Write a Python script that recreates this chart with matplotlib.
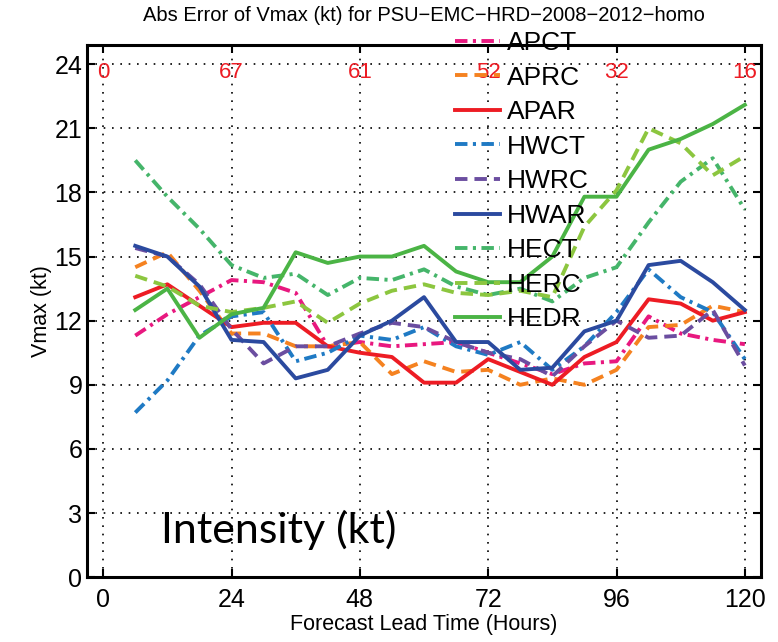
import matplotlib
matplotlib.use("Agg")
import matplotlib.pyplot as plt

# forecast lead times (hours)
hours = [6, 12, 18, 24, 30, 36, 42, 48, 54, 60, 66, 72, 78, 84, 90, 96, 102, 108, 114, 120]

# absolute Vmax errors (kt)
apct = [11.3, 12.3, 13.1, 13.9, 13.8, 13.3, 10.8, 11.0, 10.8, 10.9, 11.0, 10.5, 10.0, 9.5, 10.0, 10.1, 12.2, 11.4, 11.1, 10.9]
aprc = [14.5, 15.2, 13.4, 11.4, 11.4, 10.8, 10.8, 11.0, 9.5, 10.1, 9.6, 9.7, 9.0, 9.3, 9.0, 9.7, 11.7, 11.8, 12.7, 12.4]
apar = [13.1, 13.7, 12.7, 11.7, 11.9, 11.9, 10.8, 10.5, 10.3, 9.1, 9.1, 10.2, 9.6, 9.0, 10.3, 11.0, 13.0, 12.8, 12.0, 12.4]
hwct = [7.7, 9.2, 11.3, 12.2, 12.4, 10.1, 10.5, 11.3, 11.1, 11.7, 10.8, 10.4, 11.0, 9.7, 10.8, 12.4, 14.4, 13.1, 12.4, 10.2]
hwrc = [15.4, 15.0, 13.7, 11.6, 10.0, 10.8, 10.8, 11.4, 11.9, 11.7, 11.0, 10.5, 10.2, 9.4, 10.8, 12.0, 11.2, 11.3, 12.5, 9.9]
hwar = [15.5, 15.0, 13.6, 11.1, 11.0, 9.3, 9.7, 11.3, 12.0, 13.1, 11.0, 11.0, 9.7, 9.8, 11.5, 12.0, 14.6, 14.8, 13.8, 12.5]
hect = [19.5, 17.8, 16.3, 14.6, 14.0, 14.2, 13.2, 14.0, 13.9, 14.4, 13.6, 13.2, 13.5, 12.9, 14.0, 14.5, 16.6, 18.5, 19.6, 17.2]
herc = [14.1, 13.6, 12.7, 12.4, 12.6, 12.9, 11.9, 12.8, 13.4, 13.7, 13.3, 13.2, 13.4, 13.1, 16.4, 18.1, 21.0, 20.3, 18.8, 19.7]
hedr = [12.5, 13.5, 11.2, 12.3, 12.6, 15.2, 14.7, 15.0, 15.0, 15.5, 14.3, 13.8, 13.8, 15.0, 17.8, 17.8, 20.0, 20.5, 21.2, 22.1]

# number of cases at each label position
count_hours = [0, 24, 48, 72, 96, 120]
counts = ["0", "67", "61", "52", "32", "16"]

names = ["APCT", "APRC", "APAR", "HWCT", "HWRC", "HWAR", "HECT", "HERC", "HEDR"]
series = [apct, aprc, apar, hwct, hwrc, hwar, hect, herc, hedr]
colors = ["#e8187f", "#f58220", "#ed1c24", "#1f7ac4", "#6b4ea0", "#2b4a9f",
          "#45b56a", "#8cc63f", "#4bb445"]
dashdot = (0, (3.2, 1.4, 0.8, 1.4))
dashed = (0, (3.2, 1.8))
styles = [dashdot, dashed, "-", dashdot, dashed, "-", dashdot, dashed, "-"]

plt.rcParams["font.family"] = ["Liberation Sans", "DejaVu Sans"]

fig = plt.figure(figsize=(7.78, 6.42), dpi=100)
ax = fig.add_axes([0.112, 0.101, 0.866, 0.829])

for name, vals, c, ls in zip(names, series, colors, styles):
    ax.plot(hours, vals, color=c, linestyle=ls, linewidth=2.8, label=name)

for h, n in zip(count_hours, counts):
    ax.text(h, 23.6, n, color="#ed1c24", fontsize=16, ha="center", va="center")

ax.text(32.9, 2.2, "Intensity (kt)", fontsize=31, family="Lato", ha="center", va="center")

ax.set_xlim(-3, 123)
ax.set_ylim(0, 24.9)
ax.set_xticks([0, 24, 48, 72, 96, 120])
ax.set_yticks(range(0, 25, 3))
ax.tick_params(direction="in", length=6, width=1.5, labelsize=18,
               top=True, right=True)
ax.tick_params(axis="x", pad=8)
ax.grid(True, color="black", linestyle=(0, (1, 4)), linewidth=1.2)
for s in ax.spines.values():
    s.set_linewidth(2.2)

ax.set_title("Abs Error of Vmax (kt) for PSU\u2212EMC\u2212HRD\u22122008\u22122012\u2212homo",
             fontsize=14.5, pad=17)
ax.set_xlabel("Forecast Lead Time (Hours)", fontsize=15.5, labelpad=1)
ax.set_ylabel("Vmax (kt)", fontsize=15.5, labelpad=2)

leg = ax.legend(loc="upper left", bbox_to_anchor=(455 / 778, 1 - 31 / 642),
                bbox_transform=fig.transFigure, frameon=False, fontsize=19,
                handlelength=1.7, handletextpad=0.27, labelspacing=0.4,
                borderpad=0, borderaxespad=0)

plt.savefig("out.png", dpi=100)
